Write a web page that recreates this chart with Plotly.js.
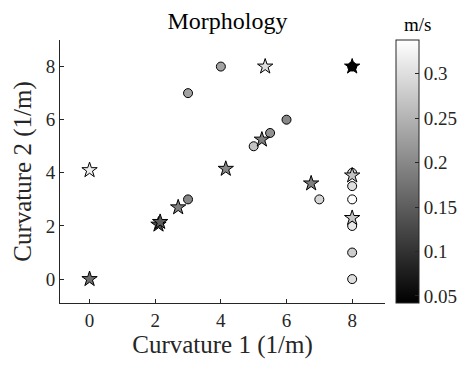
<!DOCTYPE html>
<html>
<head>
<meta charset="utf-8">
<script src="https://cdn.plot.ly/plotly-3.0.1.min.js"></script>
<style>html,body{margin:0;padding:0;background:#fff;}#chart{width:474px;height:369px;}</style>
</head>
<body>
<div id="chart"></div>
<script>
// Circle markers
const circleX = [4, 3, 6, 5.5, 5, 3, 7, 8, 8, 8, 8, 8, 8, 8];
const circleY = [8, 7, 6, 5.5, 5, 3, 3, 4, 3.5, 3, 2, 1, 0, 8];
const circleV = [0.23, 0.23, 0.2, 0.21, 0.27, 0.2, 0.29, 0.29, 0.3, 0.335, 0.31, 0.28, 0.3, 0.05];
// Star markers
const starX = [5.35, 0, 5.25, 4.15, 6.75, 2.7, 2.1, 2.15, 0, 8, 8, 8];
const starY = [8, 4.1, 5.25, 4.15, 3.6, 2.7, 2.05, 2.15, 0, 3.9, 2.3, 8];
const starV = [0.3, 0.32, 0.19, 0.2, 0.19, 0.19, 0.13, 0.15, 0.17, 0.27, 0.27, 0.045];
const tickVals = [0, 2, 4, 6, 8];
const cbTicks = [0.05, 0.1, 0.15, 0.2, 0.25, 0.3];
const cbLabel = 'm/s';

const FONT = 'Liberation Serif, DejaVu Serif, serif';
const gray = [[0, '#000000'], [1, '#ffffff']];
const cmin = 0.042, cmax = 0.338;

const traces = [
  {
    type: 'scatter', mode: 'markers', x: circleX, y: circleY,
    marker: {
      symbol: 'circle', size: 9, color: circleV, colorscale: gray, cmin: cmin, cmax: cmax,
      line: {color: '#000', width: 1},
      showscale: true,
      colorbar: {
        x: 1.033, xanchor: 'left', y: 0.5, yanchor: 'middle', len: 1.0, lenmode: 'fraction',
        thickness: 23, outlinecolor: '#262626', outlinewidth: 1,
        tickvals: cbTicks, ticktext: cbTicks.map(String), ticks: 'inside', ticklen: 4, tickcolor: '#262626',
        tickfont: {family: FONT, size: 19, color: '#262626'}, xpad: 0, ypad: 0
      }
    },
    showlegend: false
  },
  {
    type: 'scatter', mode: 'markers', x: starX, y: starY,
    marker: {
      symbol: 'star', size: 11.5, color: starV, colorscale: gray, cmin: cmin, cmax: cmax,
      line: {color: '#000', width: 1}, showscale: false
    },
    showlegend: false
  }
];

const axCommon = {
  showgrid: false, zeroline: false, showline: true, linecolor: '#262626', linewidth: 1,
  ticks: 'inside', ticklen: 4, tickcolor: '#262626', mirror: false,
  tickfont: {family: FONT, size: 19, color: '#262626'},
  tickvals: tickVals, ticktext: tickVals.map(String)
};

const layout = {
  width: 474, height: 369,
  margin: {l: 60, r: 78, t: 40, b: 66},
  paper_bgcolor: '#fff', plot_bgcolor: '#fff',
  title: {text: 'Morphology', font: {family: FONT, size: 24, color: '#000'}, x: 0.48, xanchor: 'center', y: 0.945, yanchor: 'middle'},
  xaxis: Object.assign({}, axCommon, {range: [-0.9, 9], title: {text: 'Curvature 1 (1/m)', font: {family: FONT, size: 25, color: '#262626'}, standoff: 2}}),
  yaxis: Object.assign({}, axCommon, {range: [-0.9, 9], title: {text: 'Curvature 2 (1/m)', font: {family: FONT, size: 25, color: '#262626'}, standoff: 6}}),
  annotations: [{
    text: cbLabel, xref: 'paper', yref: 'paper', x: 1.1, y: 1.0, xanchor: 'center', yanchor: 'bottom', yshift: 3,
    showarrow: false, font: {family: FONT, size: 19, color: '#000'}
  }]
};

Plotly.newPlot('chart', traces, layout, {displayModeBar: false, staticPlot: true});
</script>
</body>
</html>
